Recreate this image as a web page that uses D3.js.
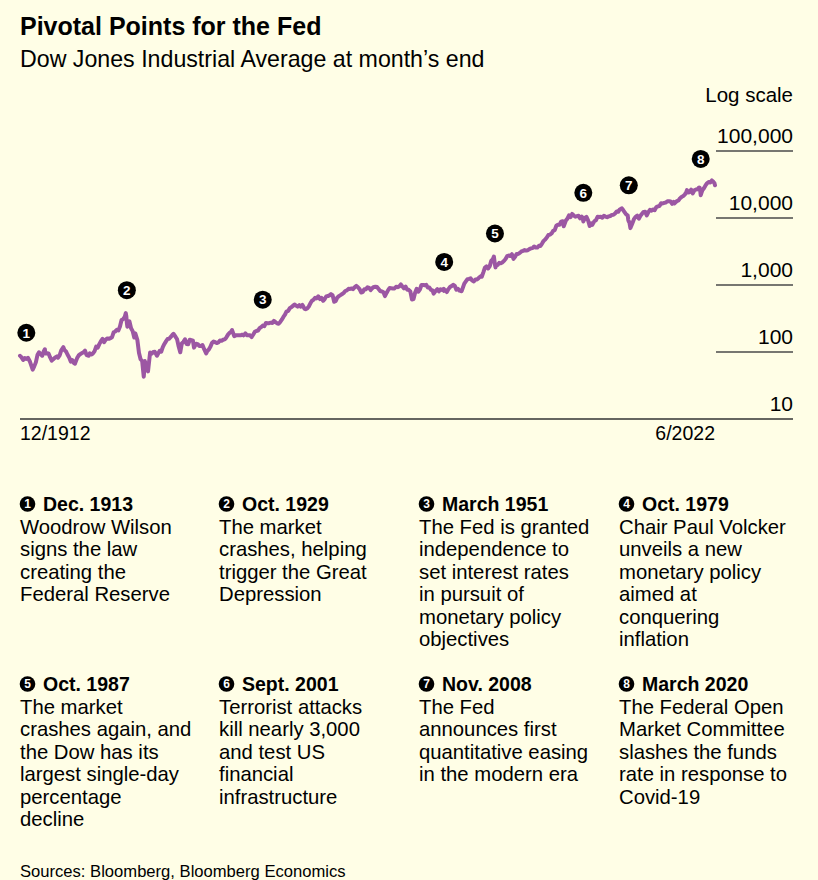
<!DOCTYPE html>
<html><head><meta charset="utf-8">
<script src="https://cdn.jsdelivr.net/npm/d3@7"></script>
<style>html,body{margin:0;padding:0;background:#fffee6;} svg{display:block;}</style>
</head><body><svg id="c" width="818" height="880"></svg>
<script>
const dowDates = [
"1912-12",
"1913-03","1913-06","1913-09","1913-12",
"1914-03","1914-07","1914-12",
"1915-03","1915-06","1915-09","1915-12",
"1916-03","1916-06","1916-09","1916-11","1916-12",
"1917-03","1917-06","1917-09","1917-12",
"1918-03","1918-06","1918-10","1918-12",
"1919-03","1919-06","1919-10","1919-12",
"1920-03","1920-06","1920-09","1920-12",
"1921-03","1921-06","1921-08","1921-12",
"1922-03","1922-06","1922-09","1922-12",
"1923-03","1923-06","1923-10","1923-12",
"1924-03","1924-06","1924-09","1924-12",
"1925-03","1925-06","1925-09","1925-12",
"1926-03","1926-06","1926-09","1926-12",
"1927-03","1927-06","1927-09","1927-12",
"1928-03","1928-06","1928-09","1928-12",
"1929-03","1929-06","1929-08","1929-09","1929-10","1929-11","1929-12",
"1930-03","1930-06","1930-09","1930-12",
"1931-02","1931-06","1931-09","1931-12",
"1932-03","1932-06","1932-07","1932-08","1932-12",
"1933-02","1933-06","1933-09","1933-12",
"1934-03","1934-07","1934-12",
"1935-03","1935-06","1935-09","1935-12",
"1936-03","1936-06","1936-09","1936-12",
"1937-02","1937-06","1937-09","1937-12",
"1938-03","1938-06","1938-09","1938-12",
"1939-03","1939-06","1939-09","1939-12",
"1940-03","1940-05","1940-09","1940-12",
"1941-03","1941-06","1941-09","1941-12",
"1942-04","1942-06","1942-09","1942-12",
"1943-03","1943-06","1943-09","1943-12",
"1944-03","1944-06","1944-09","1944-12",
"1945-03","1945-06","1945-09","1945-12",
"1946-03","1946-05","1946-09","1946-12",
"1947-03","1947-06","1947-09","1947-12",
"1948-03","1948-06","1948-09","1948-12",
"1949-03","1949-06","1949-09","1949-12",
"1950-03","1950-06","1950-09","1950-12",
"1951-03","1951-06","1951-09","1951-12",
"1952-03","1952-06","1952-09","1952-12",
"1953-03","1953-06","1953-09","1953-12",
"1954-03","1954-06","1954-09","1954-12",
"1955-03","1955-06","1955-09","1955-12",
"1956-03","1956-06","1956-09","1956-12",
"1957-03","1957-06","1957-10","1957-12",
"1958-03","1958-06","1958-09","1958-12",
"1959-03","1959-06","1959-09","1959-12",
"1960-03","1960-06","1960-09","1960-12",
"1961-03","1961-06","1961-09","1961-12",
"1962-03","1962-06","1962-09","1962-12",
"1963-03","1963-06","1963-09","1963-12",
"1964-03","1964-06","1964-09","1964-12",
"1965-03","1965-06","1965-09","1965-12",
"1966-03","1966-06","1966-09","1966-12",
"1967-03","1967-06","1967-09","1967-12",
"1968-03","1968-06","1968-09","1968-12",
"1969-03","1969-06","1969-09","1969-12",
"1970-03","1970-06","1970-09","1970-12",
"1971-03","1971-06","1971-09","1971-12",
"1972-03","1972-06","1972-09","1972-12",
"1973-03","1973-06","1973-09","1973-12",
"1974-03","1974-06","1974-09","1974-12",
"1975-03","1975-06","1975-09","1975-12",
"1976-03","1976-06","1976-09","1976-12",
"1977-03","1977-06","1977-09","1977-12",
"1978-02","1978-06","1978-09","1978-12",
"1979-03","1979-06","1979-09","1979-10","1979-12",
"1980-03","1980-06","1980-09","1980-12",
"1981-03","1981-06","1981-09","1981-12",
"1982-03","1982-07","1982-09","1982-12",
"1983-03","1983-06","1983-09","1983-12",
"1984-03","1984-06","1984-09","1984-12",
"1985-03","1985-06","1985-09","1985-12",
"1986-03","1986-06","1986-09","1986-12",
"1987-03","1987-06","1987-08","1987-10","1987-11","1987-12",
"1988-03","1988-06","1988-09","1988-12",
"1989-03","1989-06","1989-09","1989-12",
"1990-03","1990-06","1990-09","1990-12",
"1991-03","1991-06","1991-09","1991-12",
"1992-03","1992-06","1992-09","1992-12",
"1993-03","1993-06","1993-09","1993-12",
"1994-03","1994-06","1994-09","1994-12",
"1995-03","1995-06","1995-09","1995-12",
"1996-03","1996-06","1996-09","1996-12",
"1997-03","1997-06","1997-09","1997-12",
"1998-03","1998-06","1998-08","1998-12",
"1999-03","1999-06","1999-09","1999-12",
"2000-03","2000-06","2000-09","2000-12",
"2001-03","2001-06","2001-08","2001-09","2001-12",
"2002-03","2002-06","2002-09","2002-12",
"2003-02","2003-06","2003-09","2003-12",
"2004-03","2004-06","2004-09","2004-12",
"2005-03","2005-06","2005-09","2005-12",
"2006-03","2006-06","2006-09","2006-12",
"2007-03","2007-06","2007-10","2007-12",
"2008-03","2008-06","2008-09","2008-10","2008-11","2008-12",
"2009-02","2009-06","2009-09","2009-12",
"2010-03","2010-06","2010-09","2010-12",
"2011-03","2011-06","2011-09","2011-12",
"2012-03","2012-06","2012-09","2012-12",
"2013-03","2013-06","2013-09","2013-12",
"2014-03","2014-06","2014-09","2014-12",
"2015-03","2015-06","2015-09","2015-12",
"2016-01","2016-06","2016-09","2016-12",
"2017-03","2017-06","2017-09","2017-12",
"2018-01","2018-03","2018-06","2018-09","2018-12",
"2019-03","2019-06","2019-09","2019-12",
"2020-01","2020-02","2020-03","2020-06","2020-09","2020-12",
"2021-03","2021-06","2021-09","2021-12",
"2022-03","2022-05","2022-06"
];
const dowValues = [
87.9,
83,76,81,78.8,
82,71.4,54.6,
61,70,90,99.2,
93,88,103,110,95,
96,95,83,74.4,
78,82,86,82.2,
89,106,118,107.2,
102,91,82.9,72,
75.8,68.4,67,81.1,
89,92.9,96.6,98.7,
104.5,89.9,88,95.5,
92,95,103,120.5,
116,131,145,156.7,
140,153,159,157.2,
161,166,197,202.4,
214,210,240,300,
308.5,333.8,380.3,343,273.5,238.9,248.5,
286.1,226.3,204.9,164.6,
189.7,150.2,96.6,77.9,
73.3,42.8,54.3,73.2,59.9,
51.4,98.1,94.6,99.9,
100.5,88,104,
100.8,118.2,131.9,144.1,
156.3,157.7,167.8,179.9,
187.2,169.3,154.6,121,
98.9,133.9,141.5,154.8,
131.8,130.6,152.5,150.2,
147.5,116.2,132.6,131.1,
122.7,123.1,126.8,111,
95.4,103.3,109.1,119.4,
136.6,143.4,140.1,135.9,
138.8,148.4,146.7,152.3,
154.4,164.1,180.2,192.9,
199.6,212.3,172.4,177.2,
177.2,177.3,177.5,181.2,
177.2,189.5,178.3,177.3,
177.1,167.4,182.5,200.1,
206,209.1,226.4,235.4,
247.9,242.6,271.2,269.2,
269.5,274.3,271,291.9,
279.9,268.3,264,280.9,
303.5,333.5,360.5,404.4,
409.7,451.4,466.6,488.4,
511.8,492.8,475.3,499.5,
474.8,503.3,441,435.7,
446.8,478.2,532.1,583.7,
601.7,643.6,631.7,679.4,
616.6,640.6,580.1,615.9,
676.6,683.9,701.2,731.1,
706.9,561.3,578.9,652.1,
682.5,706.9,732.8,762.9,
813.3,831.5,875.4,874.1,
889,868,930.6,969.3,
924.8,870.1,774.2,785.7,
865.9,860.3,926.7,905.1,
840.7,897.8,935.8,943.8,
935.5,873.2,813.1,800.4,
785.6,683.5,760.7,838.9,
904.4,891.1,887.2,890.2,
940.7,929,953.3,1020,
951,891.7,947.1,850.9,
846.7,802.4,607.9,616.2,
768.2,879,793.9,852.4,
999.5,1002.8,990.2,1004.7,
919.1,916.3,847.1,831.2,
742.1,819,865.8,805,
862.2,842,878.6,815.7,838.7,
785.8,867.9,932.4,964,
1003.9,976.9,850,875,
822.8,808.6,896.3,1046.5,
1130,1222,1233.1,1258.6,
1164.9,1132.4,1206.7,1211.6,
1266.8,1335.5,1328.6,1546.7,
1818.6,1892.7,1767.6,1896,
2304.7,2418.5,2662.9,1993.5,1833.6,1938.8,
1988.1,2141.7,2112.9,2168.6,
2293.6,2440.1,2692.8,2753.2,
2707.2,2880.7,2452.5,2633.7,
2913.9,2906.8,3016.8,3168.8,
3235.5,3318.5,3271.7,3301.1,
3435.1,3516.1,3555.1,3754.1,
3636,3625,3843.2,3834.4,
4157.7,4556.1,4789.1,5117.1,
5587.1,5654.6,5882.2,6448.3,
6583.5,7672.8,7945.3,7908.3,
8799.8,8952,7539.1,9181.4,
9786.2,10970.8,10337,11497.1,
10921.9,10447.9,10650.9,10787,
9878.8,10502.4,9949.8,8847.6,10021.5,
10403.9,9243.3,7591.9,8341.6,
7891.1,8985.4,9275.1,10453.9,
10357.7,10435.5,10080.3,10783,
10503.8,10275,10568.7,10717.5,
11109.3,11150.2,11679.1,12463.2,
12354.4,13408.6,13930,13264.8,
12262.9,11350,10850.7,9325,8829,8776.4,
7062.9,8447,9712.3,10428,
10856.6,9774,10788,11577.5,
12319.7,12414.3,10913.4,12217.6,
13212,12880,13437,13104,
14578.5,14909.6,15129.7,16576.7,
16457.7,16826.6,17042.9,17823.1,
17776.1,17619.5,16284.7,17425,
16466.3,17930,18308,19762.6,
20663,21350,22405,24719.2,
26149.4,24103,24271,26458,23327.5,
25928.7,26600,26916.8,28538.4,
28256,25409,21917,25812.9,27781.7,30606.5,
32981.6,34502.5,33843.9,36338.3,
34678.4,32990,30775.4
];
const yTickValues = [10, 100, 1000, 10000, 100000];
const yTickLabels = ["10", "100", "1,000", "10,000", "100,000"];
const xTickLabels = ["12/1912", "6/2022"];
const markerNums = [1, 2, 3, 4, 5, 6, 7, 8];
const markerDates = ["1913-12","1929-10","1951-03","1979-10","1987-10","2001-09","2008-11","2020-03"];
const eventTitles = ["Dec. 1913","Oct. 1929","March 1951","Oct. 1979","Oct. 1987","Sept. 2001","Nov. 2008","March 2020"];
const eventTexts = [
  ["Woodrow Wilson","signs the law","creating the","Federal Reserve"],
  ["The market","crashes, helping","trigger the Great","Depression"],
  ["The Fed is granted","independence to","set interest rates","in pursuit of","monetary policy","objectives"],
  ["Chair Paul Volcker","unveils a new","monetary policy","aimed at","conquering","inflation"],
  ["The market","crashes again, and","the Dow has its","largest single-day","percentage","decline"],
  ["Terrorist attacks","kill nearly 3,000","and test US","financial","infrastructure"],
  ["The Fed","announces first","quantitative easing","in the modern era"],
  ["The Federal Open","Market Committee","slashes the funds","rate in response to","Covid-19"]
];
const titleText = "Pivotal Points for the Fed";
const subtitleText = "Dow Jones Industrial Average at month\u2019s end";
const scaleNote = "Log scale";
const sourceText = "Sources: Bloomberg, Bloomberg Economics";

// ---- Drawing ----
const FONT = "'Liberation Sans', Arial, Helvetica, sans-serif";
const BG = "#fffee6";
const LINE = "#9c57a3";
const svg = d3.select("#c").style("font-family", FONT);
svg.append("rect").attr("width", 818).attr("height", 880).attr("fill", BG);

const parse = d3.timeParse("%Y-%m");
const data = dowDates.map((d, i) => ({ date: parse(d), value: dowValues[i] }));

const x = d3.scaleTime().domain([parse("1912-12"), parse("2022-06")]).range([20, 715]);
const y = d3.scaleLog().domain([10, 100000]).range([419, 151]);

svg.append("text").attr("x", 20).attr("y", 35).attr("font-size", 25).attr("font-weight", "bold")
  .attr("fill", "#000").text(titleText);
svg.append("text").attr("x", 20).attr("y", 67).attr("font-size", 23.2)
  .attr("fill", "#000").text(subtitleText);
svg.append("text").attr("x", 793).attr("y", 102).attr("font-size", 20.5).attr("text-anchor", "end")
  .attr("fill", "#000").text(scaleNote);

// y gridlines (right side) and labels
const g = svg.append("g");
yTickValues.forEach((v, i) => {
  const yy = y(v);
  if (i > 0) {
    g.append("line").attr("x1", 716).attr("x2", 793).attr("y1", yy).attr("y2", yy)
      .attr("stroke", "#4a4a4a").attr("stroke-width", 1.3);
  }
  g.append("text").attr("x", 793).attr("y", yy - 8).attr("text-anchor", "end")
    .attr("font-size", 21).attr("fill", "#000").text(yTickLabels[i]);
});
// baseline axis
g.append("line").attr("x1", 20).attr("x2", 793).attr("y1", y(10)).attr("y2", y(10))
  .attr("stroke", "#333").attr("stroke-width", 1.3);

// x labels
svg.append("text").attr("x", x.range()[0]).attr("y", 440).attr("font-size", 19.5)
  .attr("fill", "#000").text(xTickLabels[0]);
svg.append("text").attr("x", x.range()[1]).attr("y", 440).attr("font-size", 19.5)
  .attr("text-anchor", "end").attr("fill", "#000").text(xTickLabels[1]);

// line
const line = d3.line().x(d => x(d.date)).y(d => y(d.value));
svg.append("path").datum(data).attr("d", line).attr("fill", "none")
  .attr("stroke", LINE).attr("stroke-width", 4).attr("stroke-linejoin", "round").attr("stroke-linecap", "round");

// markers: above the local high within +-1.5 years
const yearMs = 365.25 * 24 * 3600 * 1000;
markerDates.forEach((md, i) => {
  const t = parse(md);
  const near = data.filter(d => Math.abs(d.date - t) <= 1.5 * yearMs);
  const topY = d3.min(near, d => y(d.value));
  const cx = x(t), cy = topY - 23;
  svg.append("circle").attr("cx", cx).attr("cy", cy).attr("r", 9).attr("fill", "#000");
  svg.append("text").attr("x", cx).attr("y", cy + 4.8).attr("text-anchor", "middle")
    .attr("font-size", 13.5).attr("font-weight", "bold").attr("fill", "#fff").text(markerNums[i]);
});

// event annotations
const colX = [20, 219, 419, 619];
const rowY = [511, 691];
const lh = 22.5;
eventTitles.forEach((t, i) => {
  const cx0 = colX[i % 4], by = rowY[Math.floor(i / 4)];
  const gg = svg.append("g");
  gg.append("circle").attr("cx", cx0 + 7.5).attr("cy", by - 7).attr("r", 7.8).attr("fill", "#000");
  gg.append("text").attr("x", cx0 + 7.5).attr("y", by - 2.6).attr("text-anchor", "middle")
    .attr("font-size", 12).attr("font-weight", "bold").attr("fill", "#fff").text(markerNums[i]);
  gg.append("text").attr("x", cx0 + 23).attr("y", by).attr("font-size", 19.5).attr("font-weight", "bold")
    .attr("fill", "#000").text(t);
  eventTexts[i].forEach((ln, j) => {
    gg.append("text").attr("x", cx0).attr("y", by + lh * (j + 1)).attr("font-size", 20.3)
      .attr("fill", "#000").text(ln);
  });
});

svg.append("text").attr("x", 20).attr("y", 877).attr("font-size", 16.6).attr("fill", "#000").text(sourceText);
</script>
</body></html>
